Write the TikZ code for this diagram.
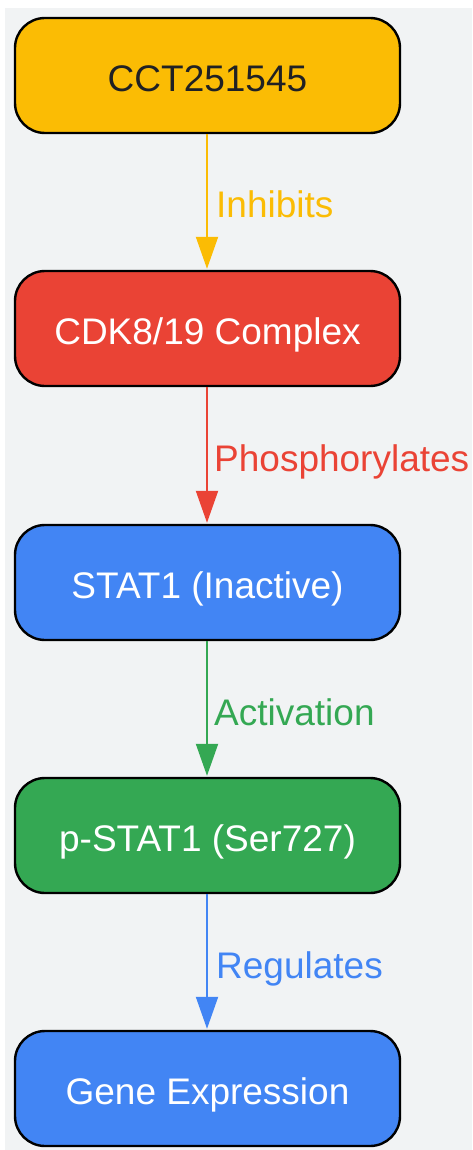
\documentclass[tikz,border=0pt]{standalone}
\usepackage{fontspec}
\setmainfont{Liberation Sans}
\usetikzlibrary{arrows.meta}
\definecolor{cyel}{HTML}{FBBC04}
\definecolor{cred}{HTML}{EA4335}
\definecolor{cblue}{HTML}{4285F4}
\definecolor{cgreen}{HTML}{34A853}
\definecolor{cbg}{HTML}{F1F3F4}
\definecolor{cdark}{HTML}{202124}
\begin{document}
\begin{tikzpicture}[x=1pt,y=-1pt,
  box/.style={draw=black,line width=2.4pt,rounded corners=30pt,minimum width=385pt,minimum height=115pt,inner sep=0pt,text height=32pt,text depth=0pt,font=\fontsize{37}{43}\selectfont,text=white},
  conn/.style={line width=2pt,-{Triangle[length=32pt,width=22pt]},shorten >=1pt},
  lab/.style={anchor=west,inner sep=0pt,text height=32pt,text depth=0pt,font=\fontsize{37}{43}\selectfont}]
\useasboundingbox (0,0) rectangle (472,1150);
\fill[white] (0,0) rectangle (472,1150);
\fill[cbg] (5,8) rectangle (472,1150);
\node[box,fill=cyel,text=cdark] (a) at (207.5,75.5) {CCT251545};
\node[box,fill=cred] (b) at (207.5,328.5) {CDK8/19 Complex};
\node[box,fill=cblue] (c) at (207.5,582.5) {STAT1 (Inactive)};
\node[box,fill=cgreen] (d) at (207.5,835.5) {p-STAT1 (Ser727)};
\node[box,fill=cblue] (e) at (207.5,1088.5) {Gene Expression};
\draw[conn,cyel] (a.south -| 207,0) -- (b.north -| 207,0);
\draw[conn,cred] (b.south -| 207,0) -- (c.north -| 207,0);
\draw[conn,cgreen] (c.south -| 207,0) -- (d.north -| 207,0);
\draw[conn,cblue] (d.south -| 207,0) -- (e.north -| 207,0);
\node[lab,text=cyel] (la) at (216,202) {Inhibits};
\node[lab,text=cred] (lb) at (214,455.5) {Phosphorylates};
\node[lab,text=cgreen] (lc) at (214,709) {Activation};
\node[lab,text=cblue] (ld) at (216,962) {Regulates};
\end{tikzpicture}
\end{document}
